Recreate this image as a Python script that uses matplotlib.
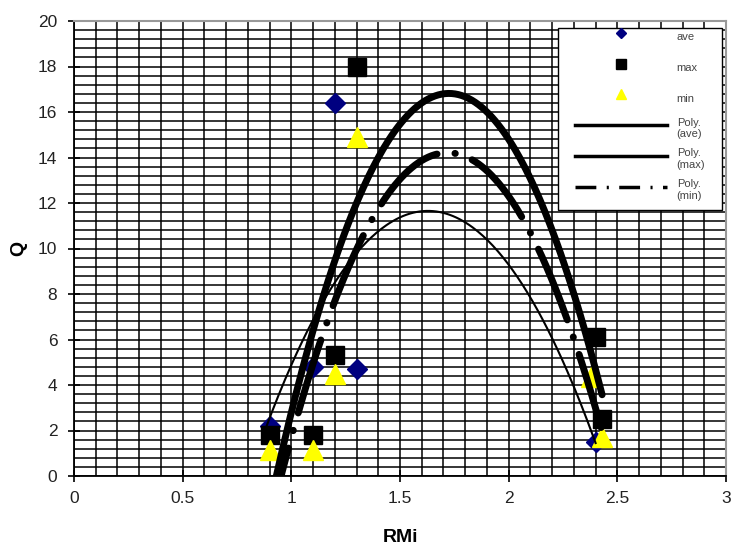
import numpy as np
import matplotlib
matplotlib.use('Agg')
import matplotlib.pyplot as plt
from matplotlib.lines import Line2D
from matplotlib.patches import Rectangle
from matplotlib.transforms import Bbox, TransformedBbox

# scatter series
aveX = [0.9, 1.1, 1.2, 1.3, 2.4]
aveY = [2.2, 4.8, 16.4, 4.7, 1.5]
maxX = [0.9, 1.1, 1.2, 1.3, 2.4, 2.43]
maxY = [1.8, 1.8, 5.3, 18.0, 6.1, 2.5]
minX = [0.9, 1.1, 1.2, 1.3, 2.38, 2.43]
minY = [1.15, 1.15, 4.5, 14.9, 4.35, 1.7]

# points read along the trendlines (fitted again with a 2nd order poly)
trendAveX = [0.88, 0.96, 1.35, 1.57, 1.63, 2.04, 2.32, 2.4]
trendAveY = [1.8, 4.2, 10.5, 11.55, 11.6, 8.6, 3.5, 1.5]
trendMaxX = [0.93, 1.2, 1.5, 1.72, 2.0, 2.2, 2.42]
trendMaxY = [0.0, 9.5, 15.3, 16.75, 14.8, 11.2, 3.7]
trendMinX = [1.05, 1.35, 1.43, 1.5, 1.72, 1.885, 2.08, 2.15, 2.32]
trendMinY = [3.3, 10.9, 12.35, 13.1, 14.2, 13.45, 11.0, 9.6, 5.6]

xTickLabels = ['0', '0.5', '1', '1.5', '2', '2.5', '3']
legendLabels = ['ave', 'max', 'min', 'Poly.\n(ave)', 'Poly.\n(max)', 'Poly.\n(min)']

plt.rcParams['font.family'] = ['Liberation Sans', 'DejaVu Sans']

W, H = 733, 550
axL, axR, axB, axT = 74, 726, 476, 21
fig = plt.figure(figsize=(W/100, H/100), dpi=100)
ax = fig.add_axes([axL/W, (H-axB)/H, (axR-axL)/W, (axB-axT)/H])

def axfrac(px, py):
    return (px-axL)/(axR-axL), (axB-py)/(axB-axT)

ax.plot(aveX, aveY, 'D', color='#000080', ms=10.5, mec='#000080', zorder=3)
ax.plot(maxX, maxY, 's', color='black', ms=13.5, zorder=4)
ax.plot(minX, minY, '^', color='#ffff00', ms=14, mec='#ffff00', zorder=5)

def trend(xs, ys, x0, x1):
    coef = np.polyfit(xs, ys, 2)
    xx = np.linspace(x0, x1, 200)
    return xx, np.polyval(coef, xx)

xx, yy = trend(trendAveX, trendAveY, 0.88, 2.4)
ax.plot(xx, yy, color='black', lw=1.5, zorder=6)
xx, yy = trend(trendMaxX, trendMaxY, 0.9, 2.43)
ax.plot(xx, yy, color='black', lw=5, zorder=6, solid_capstyle='round')
xx, yy = trend(trendMinX, trendMinY, 0.9, 2.43)
ax.plot(xx, yy, color='black', lw=5, zorder=6, linestyle=(0, (11, 2.6, 0.05, 2.6)),
        dash_capstyle='round')

ax.set_xlim(0, 3)
ax.set_ylim(0, 20)
ax.set_xticks(np.arange(0, 3.01, 0.5))
ax.set_xticklabels(xTickLabels)
ax.set_yticks(np.arange(0, 20.1, 2))
ax.set_xticks(np.arange(0, 3.01, 0.1), minor=True)
ax.set_yticks(np.arange(0, 20.01, 0.4), minor=True)
ax.grid(which='both', color='black', lw=1.1)
ax.set_axisbelow(True)
ax.tick_params(which='minor', length=0)
ax.tick_params(which='major', direction='inout', length=8, width=1.2,
               labelsize=12.5, labelcolor='#222222')
ax.tick_params(axis='x', pad=7)
ax.tick_params(axis='y', pad=8)
for s in ['top', 'right']:
    ax.spines[s].set_color('#999999')
    ax.spines[s].set_linewidth(1.5)
for s in ['left', 'bottom']:
    ax.spines[s].set_color('black')
    ax.spines[s].set_linewidth(1.3)

ax.set_xlabel('RMi', fontsize=14, fontweight='bold', labelpad=16)
ax.set_ylabel('Q', fontsize=14, fontweight='bold', labelpad=8)

# legend box drawn on its own, legend content placed inside it
x0, y0 = axfrac(558, 210)
x1, y1 = axfrac(722, 28)
box = Rectangle((x0, y0), x1-x0, y1-y0, transform=ax.transAxes, facecolor='white',
                edgecolor='black', lw=1.0, zorder=9)
ax.add_patch(box)

handles = [
    Line2D([], [], ls='none', marker='D', color='#000080', ms=5.5),
    Line2D([], [], ls='none', marker='s', color='black', ms=7.5),
    Line2D([], [], ls='none', marker='^', color='#ffff00', ms=7),
    Line2D([], [], color='black', lw=2.5),
    Line2D([], [], color='black', lw=2.5),
    Line2D([], [], color='black', lw=2.5, ls=(0, (6, 3, 0.6, 3))),
]
leg = ax.legend(handles, legendLabels, loc='upper left', bbox_to_anchor=axfrac(575, 25.5),
                fontsize=8, handlelength=8.25, handleheight=2.8, labelspacing=0.7,
                handletextpad=0.9, borderpad=0, borderaxespad=0, frameon=False)
leg.set_zorder(10)
clip = TransformedBbox(Bbox([[x0, y0], [x1, y1]]), ax.transAxes)
for t in leg.get_texts():
    t.set_color('#444444')
    t.set_clip_on(True)
    t.set_clip_box(clip)

fig.savefig('out.png', dpi=100, facecolor='white')
